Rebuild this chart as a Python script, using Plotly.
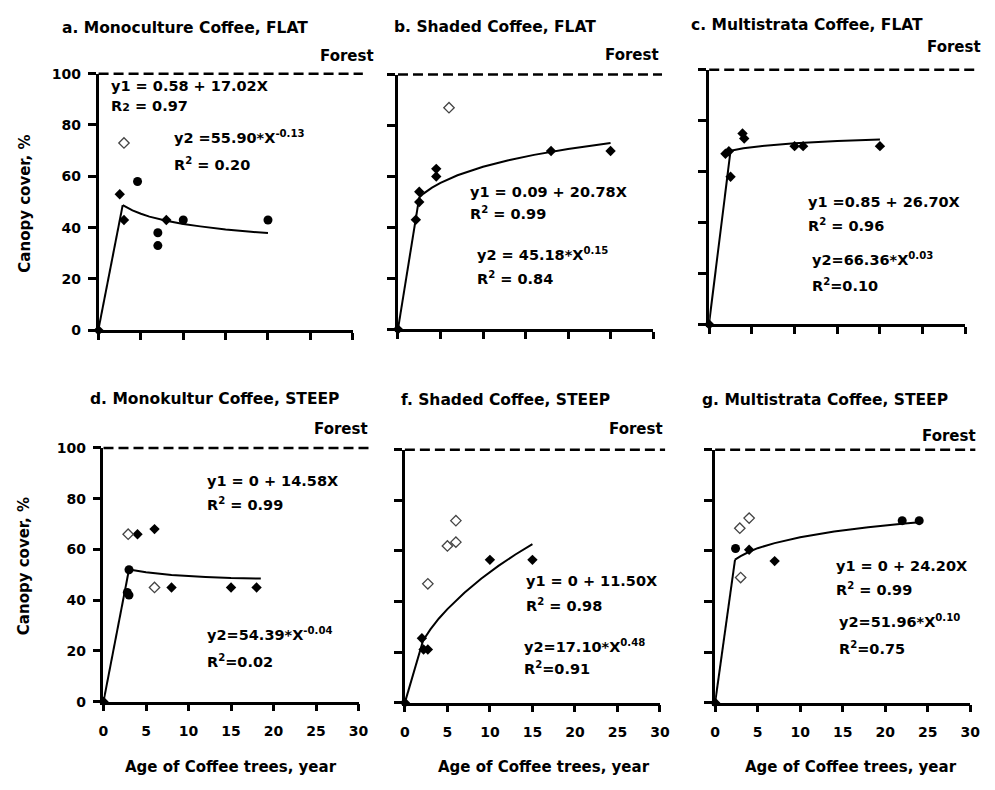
import plotly.graph_objects as go

W, H = 995, 790
FONT = "DejaVu Sans"

# ---------------- data ----------------
X_TICKS = [0, 5, 10, 15, 20, 25, 30]
Y_TICKS = [0, 20, 40, 60, 80, 100]
FOREST = 100

titles = ["a. Monoculture Coffee, FLAT", "b. Shaded Coffee, FLAT", "c. Multistrata Coffee, FLAT",
          "d. Monokultur Coffee, STEEP", "f. Shaded Coffee, STEEP", "g. Multistrata Coffee, STEEP"]

# panel a
a_fill_x = [0, 2.5, 3, 8]
a_fill_y = [0, 53, 43, 43]
a_dot_x = [4.6, 7, 7, 10, 20]
a_dot_y = [58, 38, 33, 43, 43]
a_open_x = [3]
a_open_y = [73]
a_lin_x = [0, 2.85]
a_lin_y = [0.6, 48.8]
a_pow_x = [2.85, 4, 5, 6, 8, 10, 12, 15, 18, 20]
a_pow_y = [48.8, 46.7, 45.4, 44.3, 42.7, 41.4, 40.5, 39.3, 38.4, 37.9]

# panel b
b_fill_x = [0, 2.1, 2.5, 2.5, 4.5, 4.5, 18, 25]
b_fill_y = [0, 43, 50, 54, 63, 60, 70, 70]
b_dot_x = []
b_dot_y = []
b_open_x = [6]
b_open_y = [87]
b_lin_x = [0, 2.5]
b_lin_y = [0.1, 51.8]
b_pow_x = [2.5, 3, 4, 5, 7, 10, 13, 16, 20, 25]
b_pow_y = [51.8, 53.3, 55.6, 57.5, 60.5, 63.8, 66.4, 68.5, 70.8, 73.2]

# panel c
c_fill_x = [0, 1.9, 2.3, 2.5, 3.9, 4.1, 10, 11, 20]
c_fill_y = [0, 67, 68, 58, 75, 73, 70, 70, 70]
c_dot_x = []
c_dot_y = []
c_open_x = []
c_open_y = []
c_lin_x = [0, 2.5]
c_lin_y = [0.9, 68.2]
c_pow_x = [2.5, 4, 6, 10, 15, 20]
c_pow_y = [68.2, 69.2, 70.0, 71.1, 72.0, 72.6]

# panel d
d_fill_x = [0, 4, 6, 8, 15, 18]
d_fill_y = [0, 66, 68, 45, 45, 45]
d_dot_x = [3, 3, 2.8]
d_dot_y = [52, 42, 43]
d_open_x = [2.9, 6]
d_open_y = [66, 45]
d_lin_x = [0, 3]
d_lin_y = [0, 52.1]
d_pow_x = [3, 5, 8, 10, 12, 15, 18.5]
d_pow_y = [52.1, 51.0, 49.9, 49.4, 49.1, 48.7, 48.5]

# panel f
f_fill_x = [0, 10, 15, 2, 2.2, 2.7]
f_fill_y = [0, 56.5, 56.5, 25.5, 21, 21]
f_dot_x = []
f_dot_y = []
f_open_x = [2.7, 5, 6, 6]
f_open_y = [47, 62, 63.5, 72]
f_lin_x = [0, 2.14]
f_lin_y = [0, 24.6]
f_pow_x = [2.14, 3, 4, 5, 7, 9, 11, 13, 15]
f_pow_y = [24.6, 29.0, 33.3, 37.0, 43.5, 49.1, 54.1, 58.6, 62.7]

# panel g
g_fill_x = [0, 4, 7]
g_fill_y = [0, 60.5, 56]
g_dot_x = [2.4, 22, 24]
g_dot_y = [61, 72, 72]
g_open_x = [2.9, 4, 3]
g_open_y = [69, 73, 49.5]
g_lin_x = [0, 2.34]
g_lin_y = [0, 56.6]
g_pow_x = [2.34, 3, 4, 5, 7, 10, 14, 18, 22, 24]
g_pow_y = [56.6, 58.0, 59.7, 61.1, 63.1, 65.4, 67.7, 69.4, 70.8, 71.4]

eq1 = ["y1 = 0.58 + 17.02X", "y1 = 0.09 + 20.78X", "y1 =0.85 + 26.70X",
       "y1 = 0 + 14.58X", "y1 = 0 + 11.50X", "y1 = 0 + 24.20X"]
r1 = ["R<span style='font-size:11px'>2</span> = 0.97", "R<sup>2</sup> = 0.99", "R<sup>2</sup> = 0.96",
      "R<sup>2</sup> = 0.99", "R<sup>2</sup> = 0.98", "R<sup>2</sup> = 0.99"]
eq2 = ["y2 =55.90*X<sup>-0.13</sup>", "y2 = 45.18*X<sup>0.15</sup>", "y2=66.36*X<sup>0.03</sup>",
       "y2=54.39*X<sup>-0.04</sup>", "y2=17.10*X<sup>0.48</sup>", "y2=51.96*X<sup>0.10</sup>"]
r2 = ["R<sup>2</sup> = 0.20", "R<sup>2</sup> = 0.84", "R<sup>2</sup>=0.10",
      "R<sup>2</sup>=0.02", "R<sup>2</sup>=0.91", "R<sup>2</sup>=0.75"]

panel_data = [
    (a_fill_x, a_fill_y, a_dot_x, a_dot_y, a_open_x, a_open_y, a_lin_x, a_lin_y, a_pow_x, a_pow_y),
    (b_fill_x, b_fill_y, b_dot_x, b_dot_y, b_open_x, b_open_y, b_lin_x, b_lin_y, b_pow_x, b_pow_y),
    (c_fill_x, c_fill_y, c_dot_x, c_dot_y, c_open_x, c_open_y, c_lin_x, c_lin_y, c_pow_x, c_pow_y),
    (d_fill_x, d_fill_y, d_dot_x, d_dot_y, d_open_x, d_open_y, d_lin_x, d_lin_y, d_pow_x, d_pow_y),
    (f_fill_x, f_fill_y, f_dot_x, f_dot_y, f_open_x, f_open_y, f_lin_x, f_lin_y, f_pow_x, f_pow_y),
    (g_fill_x, g_fill_y, g_dot_x, g_dot_y, g_open_x, g_open_y, g_lin_x, g_lin_y, g_pow_x, g_pow_y),
]

# ---------------- layout geometry (pixels) ----------------
# left, right, top(100), bottom(0)
boxes = [(95, 353, 67, 329), (399, 658, 68, 328), (715, 975, 63, 323),
         (100, 359, 449, 708), (406, 665, 451, 709), (721, 980, 451, 709)]
title_pos = [(183, 20), (497, 19), (814, 17), (213, 399), (508, 400), (833, 400)]
forest_pos = [(377, 49), (666, 48), (993, 40), (371, 430), (670, 430), (988, 437)]
dash_ext = [1.04, 1.035, 1.04, 1.05, 1.02, 1.02]
# (x_left, y_center) for eq1, r1, eq2, r2
text_pos = [
    [(106, 80), (106, 100), (170, 136), (170, 163)],
    [(470, 188), (470, 213), (477, 255), (477, 280)],
    [(813, 198), (813, 225), (817, 260), (817, 287)],
    [(203, 483), (203, 510), (203, 643), (203, 670)],
    [(527, 585), (527, 613), (525, 655), (525, 678)],
    [(842, 570), (842, 597), (845, 630), (845, 657)],
]


def px(x):
    return x / W


def py(y):
    return 1 - y / H


fig = go.Figure()
annotations = []
shapes = []
bold = dict(family=FONT, color="black", weight="bold")

for i, (box, data) in enumerate(zip(boxes, panel_data)):
    sfx = "" if i == 0 else str(i + 1)
    xa, ya = "x" + sfx, "y" + sfx
    l, r, t, b = box
    fx, fy, dx, dy, ox, oy, lx, ly, cx, cy = data
    bottom_row = i >= 3
    left_col = i in (0, 3)

    fig.add_trace(go.Scatter(x=lx, y=ly, mode="lines", line=dict(color="black", width=2),
                             xaxis=xa, yaxis=ya, showlegend=False))
    fig.add_trace(go.Scatter(x=cx, y=cy, mode="lines", line=dict(color="black", width=2),
                             xaxis=xa, yaxis=ya, showlegend=False))
    fig.add_trace(go.Scatter(x=fx, y=fy, mode="markers", cliponaxis=False,
                             marker=dict(symbol="diamond", size=8, color="black"),
                             xaxis=xa, yaxis=ya, showlegend=False))
    if dx:
        fig.add_trace(go.Scatter(x=dx, y=dy, mode="markers", cliponaxis=False,
                                 marker=dict(symbol="circle", size=9, color="black"),
                                 xaxis=xa, yaxis=ya, showlegend=False))
    if ox:
        fig.add_trace(go.Scatter(x=ox, y=oy, mode="markers", cliponaxis=False,
                                 marker=dict(symbol="diamond-open", size=8, color="#444",
                                             line=dict(width=1.3)),
                                 xaxis=xa, yaxis=ya, showlegend=False))

    fig.update_layout({
        ("xaxis" + sfx): dict(domain=[px(l), px(r)], anchor=ya, range=[0, 30],
                              tickvals=X_TICKS, ticktext=[str(v) for v in X_TICKS],
                              showticklabels=bottom_row, ticks="outside", ticklen=7,
                              tickwidth=2.5, tickcolor="black", showline=True,
                              linewidth=2.5, linecolor="black", showgrid=False,
                              zeroline=False, ticklabelstandoff=8,
                              tickfont=dict(size=14, **bold)),
        ("yaxis" + sfx): dict(domain=[py(b), py(t)], anchor=xa, range=[0, 100],
                              tickvals=Y_TICKS, ticktext=[str(v) for v in Y_TICKS],
                              showticklabels=left_col, ticks="outside", ticklen=8,
                              tickwidth=2.5, tickcolor="black", showline=True,
                              linewidth=2.5, linecolor="black", showgrid=False,
                              zeroline=False, ticklabelstandoff=4,
                              tickfont=dict(size=14, **bold)),
    })

    shapes.append(dict(type="line", xref=xa + " domain", yref=ya + " domain",
                       x0=0, x1=dash_ext[i], y0=FOREST / 100, y1=FOREST / 100,
                       line=dict(color="black", width=2.5, dash="10px,5px")))

    tx, ty = title_pos[i]
    annotations.append(dict(text=titles[i], x=px(tx), y=py(ty), xref="paper", yref="paper",
                            xanchor="center", yanchor="middle", showarrow=False,
                            font=dict(size=15.5, **bold)))
    fx_, fy_ = forest_pos[i]
    annotations.append(dict(text="Forest", x=px(fx_), y=py(fy_), xref="paper", yref="paper",
                            xanchor="right", yanchor="middle", showarrow=False,
                            font=dict(size=15, **bold)))
    for txt, (ex, ey) in zip([eq1[i], r1[i], eq2[i], r2[i]], text_pos[i]):
        shift = 4 if "<sup>" in txt else 0
        annotations.append(dict(text=txt, x=px(ex), y=py(ey - shift), xref="paper", yref="paper",
                                xanchor="left", yanchor="middle", showarrow=False,
                                font=dict(size=14.5, **bold)))

# axis titles
for (yx, yy) in [(20, 200), (20, 570)]:
    annotations.append(dict(text="Canopy cover, %", x=px(yx), y=py(yy), xref="paper", yref="paper",
                            xanchor="center", yanchor="middle", textangle=-90, showarrow=False,
                            font=dict(size=15, **bold)))
for (xx, xy) in [(229, 775), (547, 775), (859, 775)]:
    annotations.append(dict(text="Age of Coffee trees, year", x=px(xx), y=py(xy), xref="paper",
                            yref="paper", xanchor="center", yanchor="middle", showarrow=False,
                            font=dict(size=15, **bold)))

fig.update_layout(width=W, height=H, margin=dict(l=0, r=0, t=0, b=0),
                  plot_bgcolor="white", paper_bgcolor="white",
                  annotations=annotations, shapes=shapes,
                  font=dict(family=FONT, color="black"))

fig.write_html("out.html")
